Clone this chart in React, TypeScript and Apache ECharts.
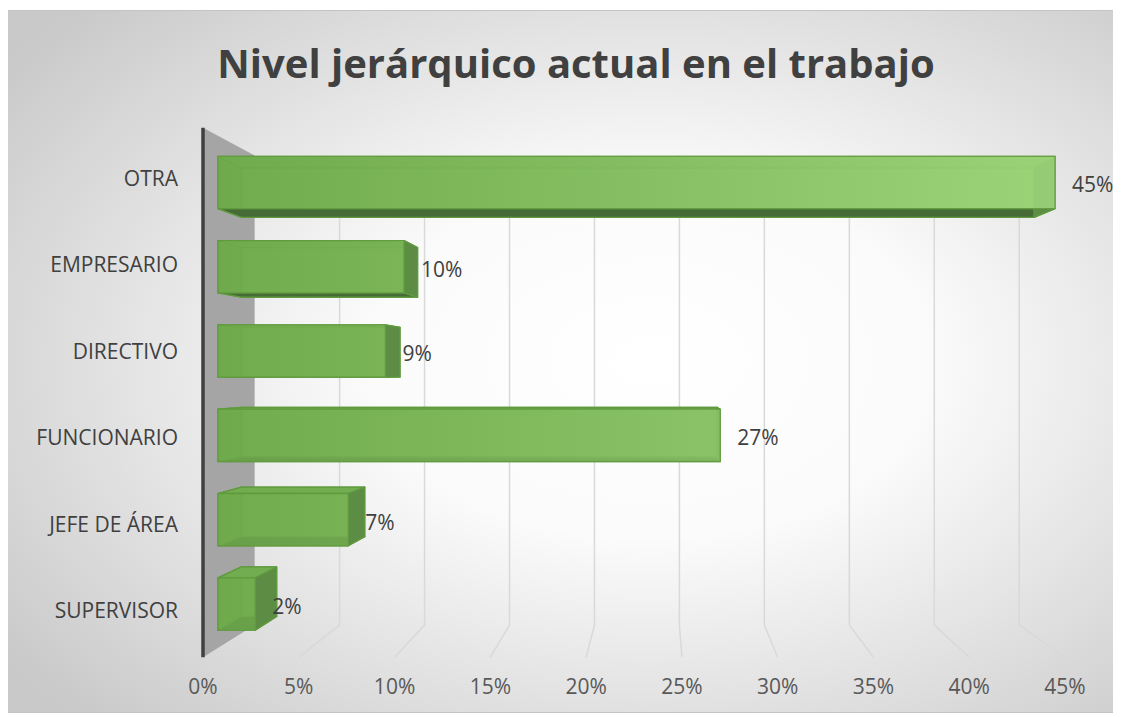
import React, { useEffect, useRef } from "react";
import * as echarts from "echarts";

const categories = ["SUPERVISOR", "JEFE DE ÁREA", "FUNCIONARIO", "DIRECTIVO", "EMPRESARIO", "OTRA"];
const values = [2, 7, 27, 9, 10, 45];
const tickValues = [5, 10, 15, 20, 25, 30, 35, 40, 45];
const axisMax = 45;
const titleText = "Nivel jerárquico actual en el trabajo";

const FONT = "'Open Sans', sans-serif";
const VP = [653, 363];
const KB = 0.053;
const KW = 0.113;

function persp(x: number, y: number, k: number): number[] {
  return [x + (VP[0] - x) * k, y + (VP[1] - y) * k];
}

export default function App() {
  const ref = useRef<HTMLDivElement>(null);
  useEffect(() => {
    if (!ref.current) return;
    const chart = echarts.init(ref.current, undefined, { renderer: "svg" });
    const edge = "#5f9b3e";
    const option: any = {
      animation: false,
      backgroundColor: new echarts.graphic.RadialGradient(0.58, 0.5, 0.72, [
        { offset: 0, color: "#ffffff" },
        { offset: 0.35, color: "#fbfbfb" },
        { offset: 1, color: "#c9c9c9" },
      ]),
      graphic: [
        {
          type: "rect",
          shape: { x: 0.5, y: 0.5, width: 1106, height: 702 },
          style: { fill: "none", stroke: "#c4c4c4", lineWidth: 1 },
          silent: true,
          z: 100,
        },
        {
          type: "text",
          x: 569,
          y: 52,
          style: {
            text: titleText,
            align: "center",
            verticalAlign: "middle",
            fill: "#404040",
            font: "bold 40px " + FONT,
          },
        },
      ],
      grid: [
        { left: 211, top: 130.3, width: 837, height: 505.8 },
        { left: 196, top: 124.8, width: 862, height: 518.4 },
      ],
      xAxis: [
        { type: "value", gridIndex: 0, min: 0, max: axisMax, show: false },
        {
          type: "value",
          gridIndex: 1,
          min: 0,
          max: axisMax,
          interval: 5,
          axisLine: { show: false },
          axisTick: { show: false },
          splitLine: { show: false },
          axisLabel: {
            formatter: "{value}%",
            color: "#595959",
            fontSize: 21,
            fontFamily: FONT,
            margin: 22,
          },
        },
      ],
      yAxis: [
        { type: "category", gridIndex: 0, data: categories, show: false },
        {
          type: "category",
          gridIndex: 1,
          data: categories,
          axisLine: { show: false },
          axisTick: { show: false },
          splitLine: { show: false },
          axisLabel: { color: "#404040", fontSize: 21, fontFamily: FONT, margin: 25 },
        },
      ],
      series: [
        {
          type: "custom",
          name: "walls",
          xAxisIndex: 1,
          yAxisIndex: 1,
          z: 1,
          silent: true,
          data: [[0, 0]],
          renderItem: (params: any, api: any) => {
            const cs = params.coordSys;
            const fx = api.coord([0, 0])[0];
            const topY = cs.y - 7;
            const floorY = cs.y + cs.height + 4;
            const bt = persp(fx, topY, KW);
            const bb = persp(fx, floorY, KW);
            return {
              type: "group",
              children: [
                {
                  type: "polygon",
                  shape: { points: [[fx, topY], bt, bb, [fx, floorY]] },
                  style: { fill: "#a5a5a5" },
                },
                {
                  type: "line",
                  shape: { x1: fx, y1: topY, x2: fx, y2: floorY },
                  style: { stroke: "#404040", lineWidth: 3.5 },
                },
              ],
            };
          },
        },
        {
          type: "custom",
          name: "gridlines",
          xAxisIndex: 1,
          yAxisIndex: 1,
          z: 2,
          silent: true,
          data: tickValues.map((v) => [v, 0]),
          renderItem: (params: any, api: any) => {
            const cs = params.coordSys;
            const fx = api.coord([api.value(0), 0])[0];
            const topY = cs.y - 7;
            const floorY = cs.y + cs.height + 4;
            const bt = persp(fx, topY, KW);
            const bb = persp(fx, floorY, KW);
            return {
              type: "polyline",
              shape: { points: [bt, bb, [fx, floorY]] },
              style: { stroke: "#d9d9d9", lineWidth: 1.5, fill: "none" },
            };
          },
        },
        {
          type: "custom",
          name: "Nivel",
          xAxisIndex: 0,
          yAxisIndex: 0,
          z: 3,
          data: values.map((v, i) => [v, i]),
          renderItem: (params: any, api: any) => {
            const v = api.value(0);
            const c = api.value(1);
            const end = api.coord([v, c]);
            const start = api.coord([0, c]);
            const g0 = api.coord([0, 0])[0];
            const g1 = api.coord([axisMax, 0])[0];
            const band = api.size([0, 1])[1];
            const h = band * 0.62;
            const x0 = start[0];
            const x1 = end[0];
            const y0 = end[1] - h / 2;
            const y1 = end[1] + h / 2;
            const fTL = [x0, y0], fTR = [x1, y0], fBR = [x1, y1], fBL = [x0, y1];
            const bTL = persp(x0, y0, KB), bTR = persp(x1, y0, KB);
            const bBR = persp(x1, y1, KB), bBL = persp(x0, y1, KB);
            const grad = new echarts.graphic.LinearGradient(
              g0, 0, g1, 0,
              [
                { offset: 0, color: "#6faa4c" },
                { offset: 1, color: "#a3da80" },
              ],
              true
            );
            const face = (pts: number[][], fill: any, opacity = 1) => ({
              type: "polygon",
              shape: { points: pts },
              style: { fill, stroke: edge, lineWidth: 1.3, lineJoin: "round", opacity },
            });
            return {
              type: "group",
              children: [
                face([bTL, bTR, bBR, bBL], "#79b458"),
                face([fTL, bTL, bBL, fBL], "#6ea84d"),
                face([fTL, fTR, bTR, bTL], "#72ad51"),
                face([fBL, fBR, bBR, bBL], "#476b37"),
                face([fTR, bTR, bBR, fBR], "#5d8c45"),
                face([fTL, fTR, fBR, fBL], grad, 0.82),
                {
                  type: "text",
                  x: x1 + 17,
                  y: end[1] + 2,
                  style: {
                    text: v + "%",
                    align: "left",
                    verticalAlign: "middle",
                    fill: "#404040",
                    font: "21px " + FONT,
                  },
                },
              ],
            };
          },
        },
      ],
    };
    chart.setOption(option);
    return () => chart.dispose();
  }, []);
  return (
    <div
      ref={ref}
      style={{ width: 1107, height: 703, marginLeft: -1, marginTop: 2 }}
    />
  );
}
